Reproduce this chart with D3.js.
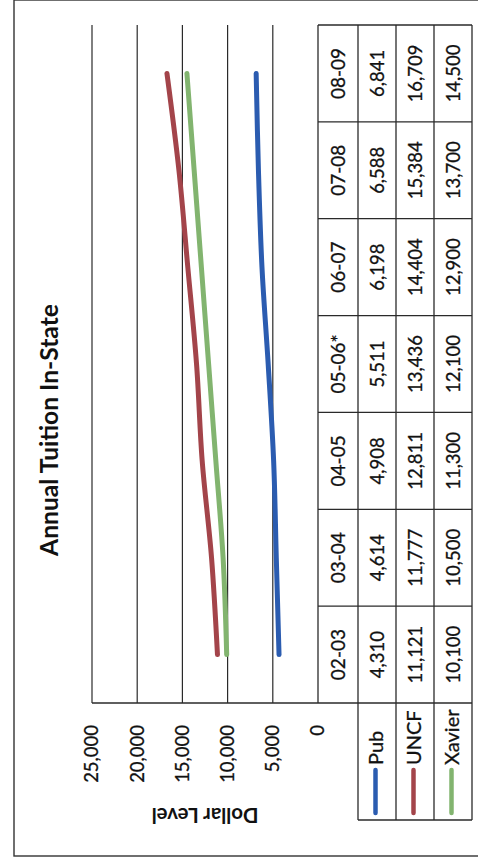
<!DOCTYPE html>
<html>
<head>
<meta charset="utf-8">
<script src="https://cdn.jsdelivr.net/npm/d3@7"></script>
<style>
  html, body { margin: 0; padding: 0; background: #fff; }
  svg { display: block; }
  text { font-family: Lato, "Open Sans", sans-serif; fill: #111; }
  .thick { stroke: #111; stroke-width: 0.3px; }
</style>
</head>
<body>
<svg id="chart" width="478" height="863"></svg>
<script>
// ---- data ----
const categories = ["02-03", "03-04", "04-05", "05-06*", "06-07", "07-08", "08-09"];
const pubValues = [4310, 4614, 4908, 5511, 6198, 6588, 6841];
const uncfValues = [11121, 11777, 12811, 13436, 14404, 15384, 16709];
const xavierValues = [10100, 10500, 11300, 12100, 12900, 13700, 14500];
const seriesNames = ["Pub", "UNCF", "Xavier"];
const seriesColors = ["#2B5CB0", "#A3444A", "#82B46F"];
const yTicks = [0, 5000, 10000, 15000, 20000, 25000];
const chartTitle = "Annual Tuition In-State";
const yAxisTitle = "Dollar Level";

const series = [pubValues, uncfValues, xavierValues].map((vals, i) => ({
  name: seriesNames[i], color: seriesColors[i], values: vals
}));

// ---- layout (chart drawn in landscape frame, then rotated onto the page) ----
const W = 863, H = 478;
const svg = d3.select("#chart");
const g = svg.append("g").attr("transform", `translate(0,${W}) rotate(-90)`);

const x = d3.scaleBand().domain(categories).range([160, 838]).paddingInner(0).paddingOuter(0);
const y = d3.scaleLinear().domain([0, 25000]).range([318, 92]);

const rowEdges = [318, 358, 396, 434, 472]; // table rows (category row + 3 series)
const legendLeft = 43;
const lineCol = "#2a2a2a";

// outer border
g.append("rect")
  .attr("x", 7).attr("y", 14).attr("width", 856).attr("height", 472)
  .attr("fill", "none").attr("stroke", "#333").attr("stroke-width", 1.4);

// title
g.append("text")
  .attr("x", 433).attr("y", 58)
  .attr("text-anchor", "middle")
  .attr("font-weight", "bold").attr("font-size", 22)
  .text(chartTitle)
  .each(function () {
    const len = this.getComputedTextLength();
    d3.select(this).attr("font-size", 22 * 252 / len);
  });

// gridlines
g.append("g").selectAll("line")
  .data(yTicks.filter(d => d > 0))
  .join("line")
  .attr("x1", x.range()[0]).attr("x2", x.range()[1])
  .attr("y1", d => y(d)).attr("y2", d => y(d))
  .attr("stroke", lineCol).attr("stroke-width", 1.2);

// y-axis tick labels
const yAxis = d3.axisLeft(y).tickValues(yTicks).tickFormat(d3.format(",")).tickSize(0).tickPadding(22);
const yAxisG = g.append("g").attr("transform", `translate(${x.range()[0]},0)`).call(yAxis);
yAxisG.select(".domain").remove();
yAxisG.selectAll("text")
  .attr("font-size", 18.5)
  .attr("font-family", "Lato, sans-serif")
  .attr("fill", "#111")
  .attr("class", "thick");

// y-axis title
g.append("text")
  .attr("transform", `translate(48,${(y(0) + y(25000)) / 2}) rotate(-90)`)
  .attr("text-anchor", "middle").attr("dy", "0.35em")
  .attr("font-weight", "bold").attr("font-size", 18)
  .text(yAxisTitle)
  .each(function () {
    const len = this.getComputedTextLength();
    d3.select(this).attr("font-size", 18 * 107 / len);
  });

// series lines
const lineGen = d3.line()
  .x((d, i) => x(categories[i]) + x.bandwidth() / 2)
  .y(d => y(d))
  .curve(d3.curveCatmullRom.alpha(0.5));

g.append("g").selectAll("path")
  .data(series)
  .join("path")
  .attr("d", d => lineGen(d.values))
  .attr("fill", "none")
  .attr("stroke", d => d.color)
  .attr("stroke-width", 5)
  .attr("stroke-linecap", "round")
  .attr("stroke-linejoin", "round");

// ---- data table ----
const table = g.append("g");
// horizontal row lines
rowEdges.forEach((r, i) => {
  table.append("line")
    .attr("x1", i === 0 ? x.range()[0] : legendLeft)
    .attr("x2", x.range()[1])
    .attr("y1", r).attr("y2", r)
    .attr("stroke", lineCol).attr("stroke-width", 1.3);
});

// vertical column separators
const colEdges = categories.map(c => x(c)).concat([x.range()[1]]);
table.selectAll(".col").data(colEdges).join("line")
  .attr("class", "col")
  .attr("x1", d => d).attr("x2", d => d)
  .attr("y1", (d, i) => i === 0 ? y(25000) : rowEdges[0])
  .attr("y2", rowEdges[rowEdges.length - 1])
  .attr("stroke", lineCol).attr("stroke-width", 1.3);
// legend column left edge
table.append("line")
  .attr("x1", legendLeft).attr("x2", legendLeft)
  .attr("y1", rowEdges[1]).attr("y2", rowEdges[4])
  .attr("stroke", lineCol).attr("stroke-width", 1.3);

// category labels
table.selectAll(".cat").data(categories).join("text")
  .attr("class", "cat thick")
  .attr("x", d => x(d) + x.bandwidth() / 2)
  .attr("y", (rowEdges[0] + rowEdges[1]) / 2)
  .attr("dy", "0.36em")
  .attr("text-anchor", "middle")
  .attr("font-size", 19)
  .text(d => d);

// values + legend
const fmt = d3.format(",");
series.forEach((s, si) => {
  const yc = (rowEdges[si + 1] + rowEdges[si + 2]) / 2;
  table.append("g").selectAll("text").data(s.values).join("text")
    .attr("class", "thick")
    .attr("x", (d, i) => x(categories[i]) + x.bandwidth() / 2)
    .attr("y", yc)
    .attr("dy", "0.36em")
    .attr("text-anchor", "middle")
    .attr("font-size", 18.5)
    .text(d => fmt(d));
  table.append("line")
    .attr("x1", 50).attr("x2", 93)
    .attr("y1", yc - 1.5).attr("y2", yc - 1.5)
    .attr("stroke", s.color).attr("stroke-width", 4.5)
    .attr("stroke-linecap", "round");
  table.append("text")
    .attr("class", "thick")
    .attr("x", 98).attr("y", yc - 1.5)
    .attr("dy", "0.36em")
    .attr("font-size", 20)
    .text(s.name);
});
</script>
</body>
</html>
